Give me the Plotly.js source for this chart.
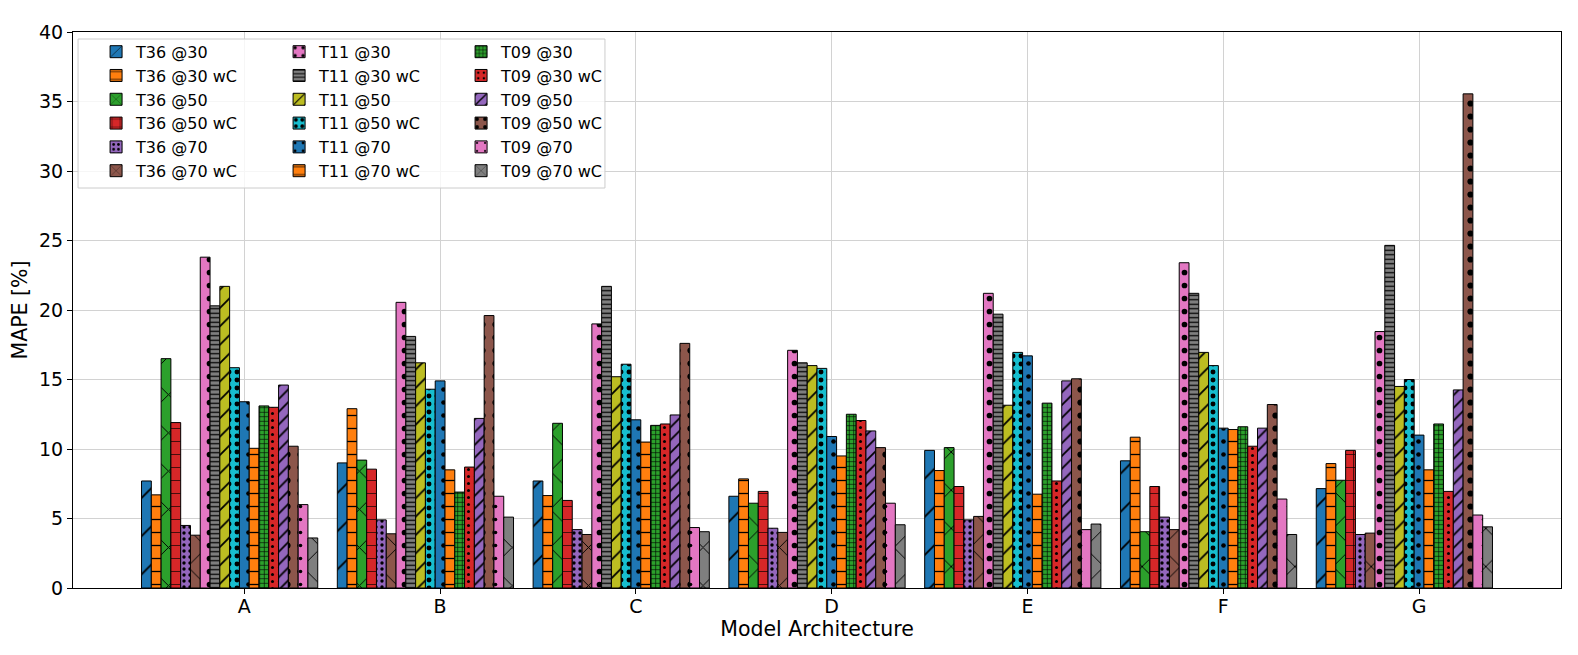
<!DOCTYPE html>
<html>
<head>
<meta charset="utf-8">
<script src="https://cdn.plot.ly/plotly-3.0.1.min.js"></script>
<style>
  body { margin: 0; background: #fff; }
  #chart { width: 1578px; height: 655px; }
</style>
</head>
<body>
<div id="chart"></div>
<script>
// model architectures on the x axis
var categories = ['A', 'B', 'C', 'D', 'E', 'F', 'G'];

// MAPE [%] per series, one value per architecture
var t36_30    = [7.7, 9.0, 7.7, 6.6, 9.9, 9.15, 7.15];
var t36_30_wc = [6.7, 12.9, 6.65, 7.85, 8.45, 10.85, 8.95];
var t36_50    = [16.5, 9.2, 11.85, 6.1, 10.1, 4.05, 7.75];
var t36_50_wc = [11.9, 8.55, 6.3, 6.95, 7.3, 7.3, 9.9];
var t36_70    = [4.5, 4.9, 4.2, 4.3, 4.9, 5.1, 3.85];
var t36_70_wc = [3.8, 3.9, 3.85, 4.0, 5.15, 4.2, 3.95];
var t11_30    = [23.8, 20.55, 19.0, 17.1, 21.2, 23.4, 18.45];
var t11_30_wc = [20.3, 18.1, 21.7, 16.2, 19.7, 21.2, 24.65];
var t11_50    = [21.7, 16.2, 15.2, 16.0, 13.15, 16.95, 14.5];
var t11_50_wc = [15.85, 14.3, 16.1, 15.8, 16.95, 16.0, 15.0];
var t11_70    = [13.4, 14.9, 12.1, 10.9, 16.7, 11.5, 11.0];
var t11_70_wc = [10.05, 8.5, 10.5, 9.5, 6.75, 11.4, 8.5];
var t09_30    = [13.1, 6.9, 11.7, 12.5, 13.3, 11.6, 11.8];
var t09_30_wc = [13.0, 8.7, 11.8, 12.05, 7.7, 10.2, 6.95];
var t09_50    = [14.6, 12.2, 12.45, 11.3, 14.9, 11.5, 14.25];
var t09_50_wc = [10.2, 19.6, 17.6, 10.1, 15.05, 13.2, 35.55];
var t09_70    = [6.0, 6.6, 4.35, 6.1, 4.2, 6.4, 5.25];
var t09_70_wc = [3.6, 5.1, 4.05, 4.55, 4.6, 3.85, 4.4];

var seriesNames = ['T36 @30', 'T36 @30 wC', 'T36 @50', 'T36 @50 wC', 'T36 @70', 'T36 @70 wC',
                   'T11 @30', 'T11 @30 wC', 'T11 @50', 'T11 @50 wC', 'T11 @70', 'T11 @70 wC',
                   'T09 @30', 'T09 @30 wC', 'T09 @50', 'T09 @50 wC', 'T09 @70', 'T09 @70 wC'];
var seriesValues = [t36_30, t36_30_wc, t36_50, t36_50_wc, t36_70, t36_70_wc,
                    t11_30, t11_30_wc, t11_50, t11_50_wc, t11_70, t11_70_wc,
                    t09_30, t09_30_wc, t09_50, t09_50_wc, t09_70, t09_70_wc];

// tab10 cycle
var colors = ['#1f77b4', '#ff7f0e', '#2ca02c', '#d62728', '#9467bd', '#8c564b',
              '#e377c2', '#7f7f7f', '#bcbd22', '#17becf', '#1f77b4', '#ff7f0e',
              '#2ca02c', '#d62728', '#9467bd', '#8c564b', '#e377c2', '#7f7f7f'];

// closest plotly patterns to the matplotlib hatches
var hatches = [
  {shape: '/', size: 27, solidity: 0.07}, {shape: '-', size: 13, solidity: 0.1},
  {shape: 'x', size: 27, solidity: 0.07}, {shape: '+', size: 13, solidity: 0.1},
  {shape: '.', size: 6, solidity: 0.25},  {shape: 'x', size: 27, solidity: 0.07},
  {shape: '.', size: 13, solidity: 0.15}, {shape: '-', size: 4.5, solidity: 0.28},
  {shape: '/', size: 13, solidity: 0.14}, {shape: '.', size: 8, solidity: 0.3},
  {shape: '.', size: 13, solidity: 0.1},  {shape: '-', size: 13, solidity: 0.1},
  {shape: '+', size: 4.5, solidity: 0.26}, {shape: '.', size: 7, solidity: 0.15},
  {shape: '/', size: 9, solidity: 0.2},   {shape: '.', size: 13, solidity: 0.18},
  {shape: '.', size: 13, solidity: 0.06}, {shape: 'x', size: 27, solidity: 0.07}
];

var barWidth = 0.05;
var legends = ['legend', 'legend2', 'legend3'];

var data = seriesValues.map(function (vals, i) {
  var h = hatches[i];
  return {
    type: 'bar',
    name: seriesNames[i],
    x: categories,
    y: vals,
    width: barWidth,
    offset: (i - 10.5) * barWidth,
    legend: legends[Math.floor(i / 6)],
    marker: {
      color: colors[i],
      line: {color: '#000', width: 1},
      pattern: {
        shape: h.shape,
        size: h.size,
        solidity: h.solidity,
        fgcolor: '#000',
        fgopacity: 1,
        bgcolor: colors[i]
      }
    },
    hoverinfo: 'name+y'
  };
});

function legendAt(x) {
  return {
    x: x, y: 0.995, xanchor: 'left', yanchor: 'top',
    bgcolor: 'rgba(0,0,0,0)', borderwidth: 0,
    font: {family: 'DejaVu Sans', size: 16, color: '#000'},
    traceorder: 'normal'
  };
}

var tickFont = {family: 'DejaVu Sans', size: 19, color: '#000'};
var titleFont = {family: 'DejaVu Sans', size: 20.5, color: '#000'};

var layout = {
  width: 1578,
  height: 655,
  margin: {l: 73, r: 17, t: 32, b: 67},
  paper_bgcolor: '#fff',
  plot_bgcolor: '#fff',
  barmode: 'overlay',
  font: {family: 'DejaVu Sans', color: '#000'},
  xaxis: {
    type: 'category',
    range: [-0.875, 6.725],
    showgrid: true,
    gridcolor: '#d2d2d2',
    showline: true, mirror: true, linecolor: '#000', linewidth: 1,
    ticks: 'outside', ticklen: 5, tickcolor: '#000',
    ticklabelstandoff: -4,
    tickfont: tickFont,
    title: {text: 'Model Architecture', font: titleFont, standoff: 2}
  },
  yaxis: {
    range: [0, 40],
    dtick: 5,
    showgrid: true,
    gridcolor: '#d2d2d2',
    zeroline: false,
    showline: true, mirror: true, linecolor: '#000', linewidth: 1,
    ticks: 'outside', ticklen: 5, tickcolor: '#000',
    tickfont: tickFont,
    title: {text: 'MAPE [%]', font: titleFont, standoff: 5}
  },
  legend: legendAt(0.0155),
  legend2: legendAt(0.1385),
  legend3: legendAt(0.2608),
  shapes: [{
    type: 'rect', xref: 'paper', yref: 'paper', layer: 'above',
    x0: 0.0034, x1: 0.3575, y0: 0.7194, y1: 0.9874,
    fillcolor: 'rgba(255,255,255,0.8)',
    line: {color: '#cccccc', width: 1}
  }]
};

Plotly.newPlot('chart', data, layout, {displayModeBar: false, staticPlot: true});
</script>
</body>
</html>
